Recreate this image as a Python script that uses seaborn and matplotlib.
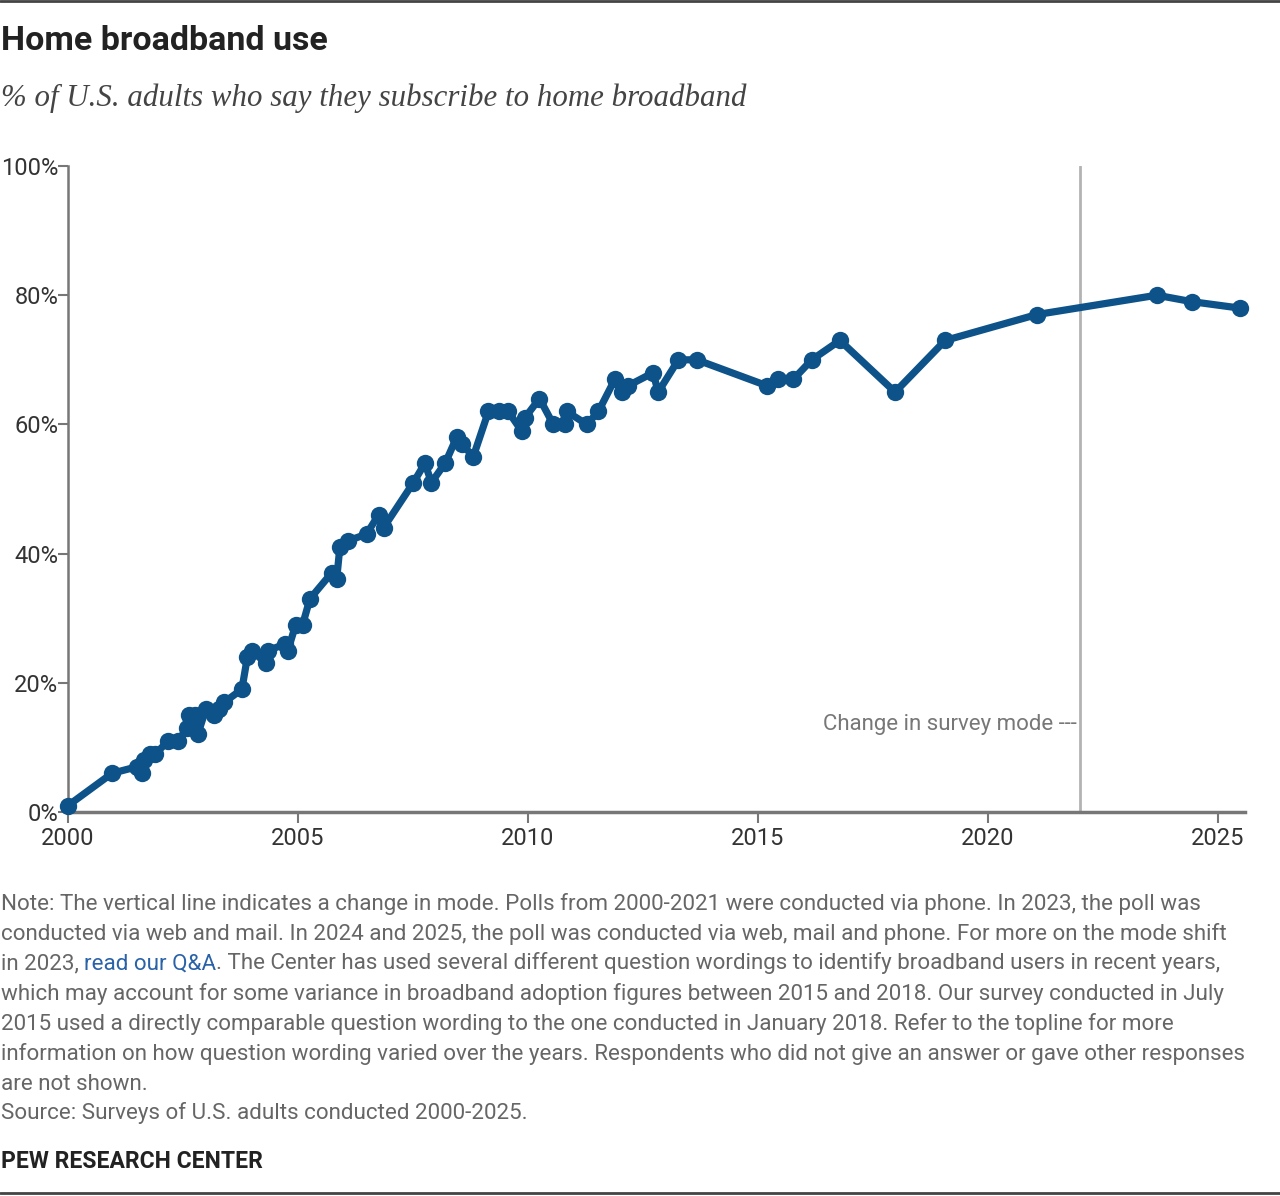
import matplotlib
matplotlib.use("Agg")
import matplotlib.pyplot as plt
from matplotlib.lines import Line2D
import seaborn as sns
import pandas as pd

# survey date (decimal year) and share subscribing to home broadband
years = [2000.0, 2000.96, 2001.5, 2001.6, 2001.65, 2001.78, 2001.9, 2002.18, 2002.4,
         2002.58, 2002.62, 2002.76, 2002.82, 2003.0, 2003.18, 2003.28, 2003.4, 2003.78,
         2003.9, 2004.0, 2004.3, 2004.35, 2004.72, 2004.78, 2004.95, 2005.1, 2005.26,
         2005.73, 2005.84, 2005.91, 2006.09, 2006.49, 2006.75, 2006.86, 2007.51, 2007.76,
         2007.9, 2008.2, 2008.45, 2008.56, 2008.81, 2009.14, 2009.36, 2009.57, 2009.86,
         2009.93, 2010.25, 2010.55, 2010.8, 2010.84, 2011.28, 2011.53, 2011.89, 2012.04,
         2012.18, 2012.72, 2012.83, 2013.27, 2013.67, 2015.19, 2015.44, 2015.77, 2016.17,
         2016.78, 2017.98, 2019.07, 2021.06, 2023.67, 2024.43, 2025.48]
share = [1, 6, 7, 6, 8, 9, 9, 11, 11,
         13, 15, 15, 12, 16, 15, 16, 17, 19,
         24, 25, 23, 25, 26, 25, 29, 29, 33,
         37, 36, 41, 42, 43, 46, 44, 51, 54,
         51, 54, 58, 57, 55, 62, 62, 62, 59,
         61, 64, 60, 60, 62, 60, 62, 67, 65,
         66, 68, 65, 70, 70, 66, 67, 67, 70,
         73, 65, 73, 77, 80, 79, 78]

x_ticks = [2000, 2005, 2010, 2015, 2020, 2025]
y_ticks = [0, 20, 40, 60, 80, 100]
mode_change = 2022.0

note_lines = [
    "Note: The vertical line indicates a change in mode. Polls from 2000-2021 were conducted via phone. In 2023, the poll was",
    "conducted via web and mail. In 2024 and 2025, the poll was conducted via web, mail and phone. For more on the mode shift",
    None,
    "which may account for some variance in broadband adoption figures between 2015 and 2018. Our survey conducted in July",
    "2015 used a directly comparable question wording to the one conducted in January 2018. Refer to the topline for more",
    "information on how question wording varied over the years. Respondents who did not give an answer or gave other responses",
    "are not shown.",
    "Source: Surveys of U.S. adults conducted 2000-2025.",
]
link_parts = ["in 2023, ", "read our Q&A", ". The Center has used several different question wordings to identify broadband users in recent years,"]

df = pd.DataFrame({"year": years, "share": share})

sns.set_style("white")
plt.rcParams["font.family"] = ["Roboto", "DejaVu Sans"]

W, H = 1280, 1196
fig = plt.figure(figsize=(W / 100, H / 100), dpi=100)
ax = fig.add_axes([68 / W, 1 - 812 / H, (1245 - 68) / W, (812 - 166) / H])

blue = "#0d5288"
sns.lineplot(data=df, x="year", y="share", ax=ax, color=blue, linewidth=5.2,
             marker="o", markersize=12.5, markeredgewidth=0, estimator=None,
             sort=False, clip_on=False, zorder=3)

ax.axvline(mode_change, ymin=0, ymax=1, color="#b3b3b3", lw=2, zorder=1)
ax.text(mode_change - 0.06, 13.6, "Change in survey mode ---", ha="right", va="center",
        fontsize=16, color="#777777")

ax.set_xlim(2000, 2000 + (1245 - 68) / 46)
ax.set_ylim(0, 100)
ax.set_xticks(x_ticks)
ax.set_xticklabels([str(t) for t in x_ticks])
ax.set_yticks(y_ticks)
ax.set_yticklabels([f"{t}%" for t in y_ticks])
ax.set_xlabel("")
ax.set_ylabel("")
for s in ["top", "right"]:
    ax.spines[s].set_visible(False)
ax.spines["left"].set_color("#777777")
ax.spines["left"].set_linewidth(1.8)
ax.spines["bottom"].set_color("#777777")
ax.spines["bottom"].set_linewidth(2.5)
ax.tick_params(axis="y", length=7, width=1.5, color="#777777", pad=0,
               labelsize=17, labelcolor="#333333", left=True)
ax.tick_params(axis="x", length=8, width=1.5, color="#777777", pad=3,
               labelsize=17, labelcolor="#333333", bottom=True)

# header
fig.text(1 / W, 1 - 41 / H, "Home broadband use", fontsize=24.5, fontweight="bold",
         color="#222222", va="center", ha="left")
fig.text(1 / W, 1 - 98 / H, "% of U.S. adults who say they subscribe to home broadband",
         fontsize=22.2, style="italic", family=["Liberation Serif", "DejaVu Serif"],
         color="#444444", va="center", ha="left")

# notes
note_y = [904, 934, 964, 994, 1024, 1054, 1084, 1113]
grey = "#666666"
fs = 16.1
for yy, line in zip(note_y, note_lines):
    if line is not None:
        fig.text(1 / W, 1 - yy / H, line, fontsize=fs, color=grey, va="center", ha="left")
prev = fig.text(1 / W, 1 - 964 / H, link_parts[0], fontsize=fs, color=grey,
                va="center", ha="left")
link = fig.text(0, 0, link_parts[1], fontsize=fs, color="#2a62a8", va="bottom", ha="left")
link.set_transform(matplotlib.transforms.IdentityTransform())
fig.canvas.draw()
bb = prev.get_window_extent()
link.set_position((bb.x1, bb.y0))
fig.canvas.draw()
bb2 = link.get_window_extent()
rest = fig.text(0, 0, link_parts[2], fontsize=fs, color=grey, va="bottom", ha="left")
rest.set_transform(matplotlib.transforms.IdentityTransform())
rest.set_position((bb2.x1, bb2.y0))

fig.text(1 / W, 1 - 1162 / H, "PEW RESEARCH CENTER", fontsize=16.5, fontweight="bold",
         color="#222222", va="center", ha="left")

# top and bottom rules
fig.add_artist(Line2D([0, 1], [1 - 1 / H, 1 - 1 / H], transform=fig.transFigure,
                      color="#444444", lw=2))
fig.add_artist(Line2D([0, 1], [1 - 1193 / H, 1 - 1193 / H], transform=fig.transFigure,
                      color="#444444", lw=2))

fig.savefig("out.png", dpi=100)
